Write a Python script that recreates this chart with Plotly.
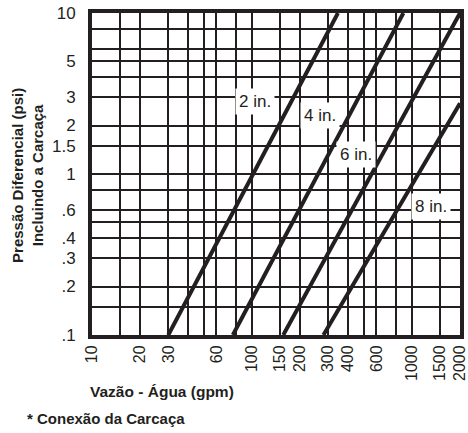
import math
import plotly.graph_objects as go

# ---- data ----
sizes = ["2 in.", "4 in.", "6 in.", "8 in."]
flow_start = [30, 76, 157, 280]        # gpm at start of each line
flow_end = [345, 885, 2000, 2000]      # gpm at end of each line
dp_start = [0.1, 0.1, 0.1, 0.1]        # psi
dp_end = [10, 10, 10, 2.75]            # psi

x_grid = [10, 15, 20, 30, 40, 50, 60, 80, 100, 150, 200, 300, 400, 500, 600, 800, 1000, 1500, 2000]
x_labels = ["10", "", "20", "30", "", "", "60", "", "100", "150", "200", "300", "400", "", "600", "", "1000", "1500", "2000"]
y_grid = [0.1, 0.15, 0.2, 0.3, 0.4, 0.5, 0.6, 0.8, 1, 1.5, 2, 3, 4, 5, 6, 8, 10]
y_labels = [".1", "", ".2", ".3", ".4", "", ".6", "", "1", "1.5", "2", "3", "", "5", "", "", "10"]

INK = "#231f20"
FONT = "Liberation Sans, Arial, sans-serif"

fig = go.Figure()
for i, s in enumerate(sizes):
    fig.add_trace(go.Scatter(
        x=[flow_start[i], flow_end[i]], y=[dp_start[i], dp_end[i]],
        mode="lines", line=dict(color=INK, width=4), name=s,
        showlegend=False, hoverinfo="skip"))

# line labels (white boxes)
label_xy = [(105, 2.83), (265, 2.30), (448, 1.315), (1320, 0.625)]
for s, (lx, ly) in zip(sizes, label_xy):
    fig.add_annotation(x=math.log10(lx), y=math.log10(ly),
                       xref="x", yref="y", text=s, showarrow=False,
                       font=dict(family=FONT, size=17, color=INK),
                       bgcolor="white", borderpad=3)

fig.update_xaxes(type="log", range=[1, math.log10(2000)],
                 tickvals=x_grid, ticktext=x_labels, tickangle=-90,
                 showgrid=True, gridcolor=INK, gridwidth=1.6,
                 showline=True, linecolor=INK, linewidth=4, mirror=True,
                 ticks="", zeroline=False, automargin=False,
                 ticklabeloverflow="allow",
                 tickfont=dict(family=FONT, size=16, color=INK))
fig.update_yaxes(type="log", range=[-1, 1],
                 tickvals=y_grid, ticktext=y_labels,
                 showgrid=True, gridcolor=INK, gridwidth=1.6,
                 showline=True, linecolor=INK, linewidth=4, mirror=True,
                 ticks="", zeroline=False, ticklabelstandoff=9, automargin=False,
                 ticklabeloverflow="allow",
                 tickfont=dict(family=FONT, size=17, color=INK))

fig.add_annotation(xref="paper", yref="paper", x=-0.174, y=0.497,
                   xanchor="center", yanchor="middle",
                   text="<b>Pressão Diferencial (psi)<br>Incluindo a Carcaça</b>",
                   textangle=-90, showarrow=False,
                   font=dict(family=FONT, size=15, color=INK))
fig.add_annotation(xref="paper", yref="paper", x=-0.012, y=-0.174, xanchor="left", yanchor="middle",
                   text="<b>Vazão - Água (gpm)</b>", showarrow=False,
                   font=dict(family=FONT, size=15.5, color=INK))
fig.add_annotation(xref="paper", yref="paper", x=-0.182, y=-0.258, xanchor="left", yanchor="middle",
                   text="<b>* Conexão da Carcaça</b>", showarrow=False,
                   font=dict(family=FONT, size=15, color=INK))

fig.update_layout(width=468, height=433,
                  margin=dict(l=92, r=8, t=13, b=98),
                  plot_bgcolor="white", paper_bgcolor="white",
                  font=dict(family=FONT, color=INK))

fig.write_html("out.html", config={"displayModeBar": False},
               post_script="document.body.style.margin='0';")
